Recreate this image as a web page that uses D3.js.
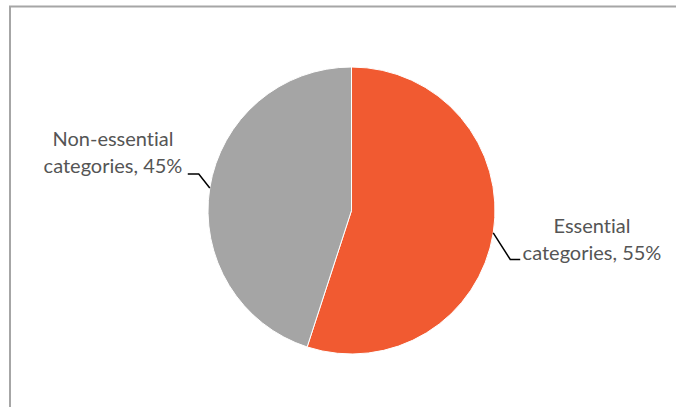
<!DOCTYPE html>
<html>
<head>
<meta charset="utf-8">
<script src="https://cdn.jsdelivr.net/npm/d3@7"></script>
<style>
  body { margin: 0; background: #fff; }
  svg { display: block; }
  .label {
    font-family: Lato, "Open Sans", sans-serif;
    font-size: 20px;
    fill: #555;
    font-variant-ligatures: none;
    font-feature-settings: "liga" 0, "dlig" 0;
  }
</style>
</head>
<body>
<div id="chart"></div>
<script>
var width = 676;
var height = 407;

// data
var categories = ["Essential categories", "Non-essential categories"];
var labelLines = [["Essential", "categories, 55%"], ["Non-essential", "categories, 45%"]];
var values = [55, 45];
var colors = ["#f15a31", "#a5a5a5"];

// layout
var cx = 351.5, cy = 210.5, radius = 143.5;
// elbow / text placement relative to slice midpoint on the rim
var labelSpec = [
  { elbow: [17, 26.5], tail: 10, textX: 592, baseY: 232.7 },
  { elbow: [-11, -14], tail: -11, textX: 113, baseY: 145.7 }
];
var lineGap = 27.3;

var svg = d3.select("#chart").append("svg")
  .attr("width", width)
  .attr("height", height);

// chart frame (cut off at right and bottom)
svg.append("rect")
  .attr("x", 10)
  .attr("y", 6.5)
  .attr("width", 720)
  .attr("height", 450)
  .attr("fill", "none")
  .attr("stroke", "#a6a6a6")
  .attr("stroke-width", 2);

var pie = d3.pie()
  .sort(null)
  .value(function(d) { return d; });

var arcs = pie(values);

var arc = d3.arc()
  .innerRadius(0)
  .outerRadius(radius);

var g = svg.append("g")
  .attr("transform", "translate(" + cx + "," + cy + ")");

g.selectAll(".slice")
  .data(arcs)
  .enter().append("path")
  .attr("class", "slice")
  .attr("d", arc)
  .attr("fill", function(d, i) { return colors[i]; })
  .attr("stroke", "#fff")
  .attr("stroke-width", 1)
  .append("title")
  .text(function(d, i) { return categories[i] + ": " + values[i] + "%"; });

// leader lines + labels
arcs.forEach(function(d, i) {
  var mid = (d.startAngle + d.endAngle) / 2;
  var px = cx + radius * Math.sin(mid);
  var py = cy - radius * Math.cos(mid);
  var s = labelSpec[i];
  var ex = px + s.elbow[0], ey = py + s.elbow[1];
  svg.append("path")
    .attr("d", "M" + px + "," + py + "L" + ex + "," + ey + "L" + (ex + s.tail) + "," + ey)
    .attr("fill", "none")
    .attr("stroke", "#000")
    .attr("stroke-width", 1.5);

  var t = svg.append("text")
    .attr("class", "label")
    .attr("text-anchor", "middle");
  labelLines[i].forEach(function(line, j) {
    t.append("tspan")
      .attr("x", s.textX)
      .attr("y", s.baseY + j * lineGap)
      .text(line);
  });
});
</script>
</body>
</html>
